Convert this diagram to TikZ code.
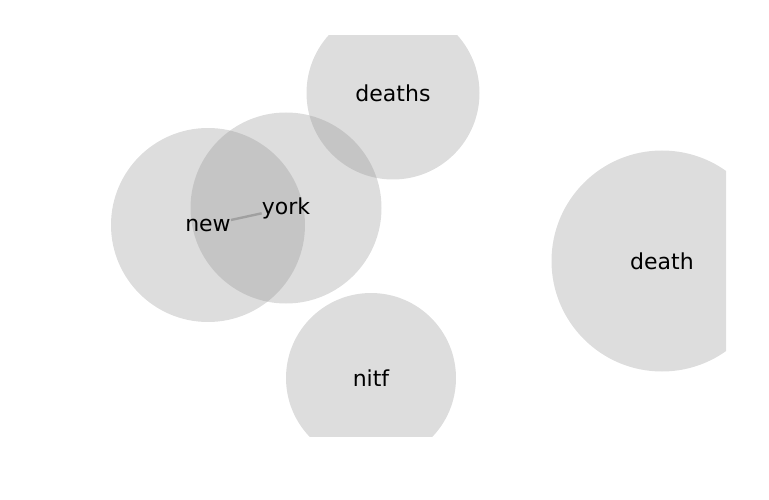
\documentclass[tikz,border=0pt]{standalone}
\usepackage{fontspec}
\setmainfont{DejaVu Sans}
\definecolor{bubble}{gray}{0.56}
\definecolor{edgec}{RGB}{160,160,160}
\begin{document}
\begin{tikzpicture}[x=1pt,y=-1pt,
  bub/.style={fill=bubble,fill opacity=0.3,draw=none},
  lab/.style={font=\fontsize{22}{26}\selectfont,inner sep=0pt,text=black},
  edg/.style={draw=edgec,line width=2.4pt}]
\useasboundingbox (0,0) rectangle (769,500);
\begin{scope}
\clip (0,36) rectangle (726,436);
\fill[bub] (393,93) circle (86.5);
\fill[bub] (286,208) circle (95.5);
\fill[bub] (208,225) circle (97);
\fill[bub] (371,378) circle (85);
\fill[bub] (662,261) circle (110.5);
\end{scope}
\node[lab] (deaths) at (393,93) {deaths};
\node[lab] (york) at (286,208) {york};
\node[lab] (new) at (208,225) {new};
\node[lab] (nitf) at (371,378) {nitf};
\node[lab] (death) at (662,261) {death};
\draw[edg] (new) -- (york);
\end{tikzpicture}
\end{document}
